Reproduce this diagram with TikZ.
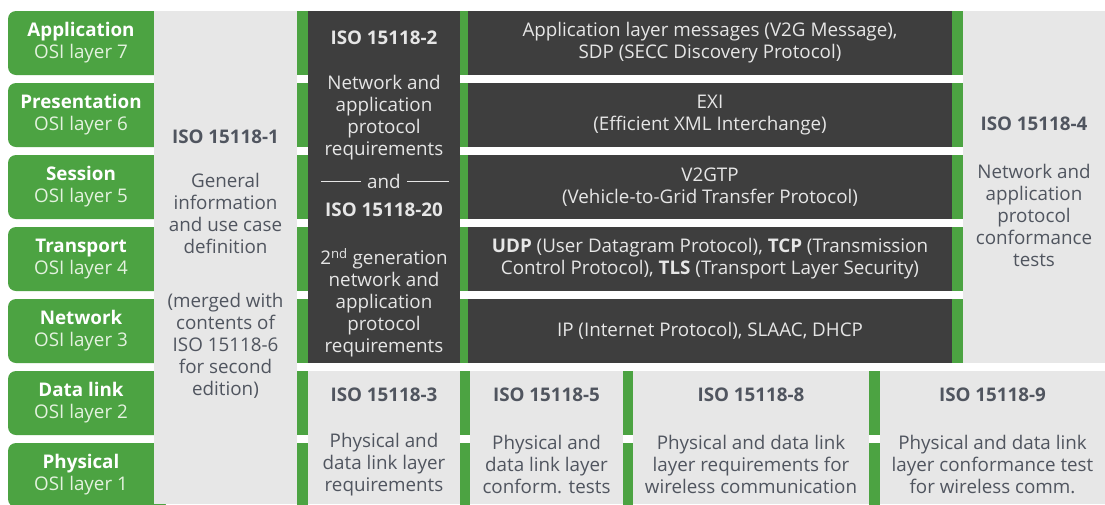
\documentclass[tikz,border=0pt]{standalone}
\usepackage{fontspec}
\setmainfont{Open Sans}
\definecolor{greenc}{HTML}{4CA342}
\definecolor{darkc}{HTML}{3E3E3E}
\definecolor{lightc}{HTML}{E7E7E7}
\definecolor{txtdark}{HTML}{50555F}
\definecolor{txtlight}{HTML}{E6E6E6}
\definecolor{ositxt}{HTML}{E4F2DF}
\tikzset{
  txt/.style={align=center, inner sep=0pt, font=\fontsize{18.8}{22}\selectfont},
  ontxt/.style={txt, text=txtlight},
  offtxt/.style={txt, text=txtdark},
  greentxt/.style={txt, text=white},
  andline/.style={draw=txtlight, line width=0.8pt}
}
\begin{document}
\begin{tikzpicture}[x=1pt,y=-1pt]
\clip (0,0) rectangle (1105,504);
\fill[white] (0,0) rectangle (1105,504);
% left green OSI boxes
\foreach \r in {1,...,7}{
  \pgfmathsetmacro\t{11+72*(\r-1)}
  \fill[greenc, rounded corners=8pt] (8,\t) rectangle (168,\t+64);
}
% ISO 15118-1 column
\fill[lightc] (154,11) rectangle (297,504);
% green bars left of ISO 15118-2 (all rows)
\foreach \r in {1,...,7}{
  \pgfmathsetmacro\t{11+72*(\r-1)}
  \fill[greenc] (297,\t) rectangle (308,\t+64);
}
% ISO 15118-2 dark column
\fill[darkc] (308,11) rectangle (460,363);
% dark protocol rows
\foreach \r in {1,...,5}{
  \pgfmathsetmacro\t{11+72*(\r-1)}
  \fill[greenc] (460,\t) rectangle (468,\t+64);
  \fill[darkc] (468,\t) rectangle (952,\t+64);
  \fill[greenc] (952,\t) rectangle (963,\t+64);
}
% ISO 15118-4 column
\fill[lightc] (963,11) rectangle (1105,363);
% bottom cells
\fill[lightc] (308,371) rectangle (460,504);
\fill[lightc] (470,371) rectangle (623,504);
\fill[lightc] (633,371) rectangle (869,504);
\fill[lightc] (880,371) rectangle (1105,504);
\foreach \r in {6,7}{
  \pgfmathsetmacro\t{11+72*(\r-1)}
  \fill[greenc] (460,\t) rectangle (470,\t+64);
  \fill[greenc] (623,\t) rectangle (633,\t+64);
  \fill[greenc] (869,\t) rectangle (880,\t+64);
}
% OSI labels
\node[greentxt] (osi7) at (81,43)  {\textbf{Application}\\{\color{ositxt}OSI layer 7}};
\node[greentxt] (osi6) at (81,115) {\textbf{Presentation}\\{\color{ositxt}OSI layer 6}};
\node[greentxt] (osi5) at (81,187) {\textbf{Session}\\{\color{ositxt}OSI layer 5}};
\node[greentxt] (osi4) at (81,259) {\textbf{Transport}\\{\color{ositxt}OSI layer 4}};
\node[greentxt] (osi3) at (81,331) {\textbf{Network}\\{\color{ositxt}OSI layer 3}};
\node[greentxt] (osi2) at (81,403) {\textbf{Data link}\\{\color{ositxt}OSI layer 2}};
\node[greentxt] (osi1) at (81,475) {\textbf{Physical}\\{\color{ositxt}OSI layer 1}};
% ISO 15118-1
\node[offtxt] (p1t) at (225.5,137) {\textbf{ISO 15118-1}};
\node[offtxt] (p1d) at (225.5,213.5) {General\\information\\and use case\\definition};
\node[offtxt] (p1m) at (225.5,346) {(merged with\\contents of\\ISO 15118-6\\for second\\edition)};
% ISO 15118-2 / -20
\node[ontxt] (p2t) at (384,38) {\textbf{ISO 15118-2}};
\node[ontxt] (p2d) at (384,118) {Network and\\application\\protocol\\requirements};
\node[ontxt] (pand) at (384,181) {and};
\draw[andline] ([xshift=-6pt]pand.west) -- ++(-40,0);
\draw[andline] ([xshift=6pt]pand.east) -- ++(42,0);
\node[ontxt] (p20t) at (384,210) {\textbf{ISO 15118-20}};
\node[ontxt] (p20d) at (384,303) {2\textsuperscript{nd} generation\\network and\\application\\protocol\\requirements};
% protocol rows
\node[ontxt] (r7) at (710,43) {Application layer messages (V2G Message),\\SDP (SECC Discovery Protocol)};
\node[ontxt] (r6) at (710,115) {EXI\\(Efficient XML Interchange)};
\node[ontxt] (r5) at (710,187) {V2GTP\\(Vehicle-to-Grid Transfer Protocol)};
\node[ontxt] (r4) at (710,259) {\textbf{UDP} (User Datagram Protocol), \textbf{TCP} (Transmission\\Control Protocol), \textbf{TLS} (Transport Layer Security)};
\node[ontxt] (r3) at (710,331) {IP (Internet Protocol), SLAAC, DHCP};
% ISO 15118-4
\node[offtxt] (p4t) at (1034,124) {\textbf{ISO 15118-4}};
\node[offtxt] (p4d) at (1034,215) {Network and\\application\\protocol\\conformance\\tests};
% bottom cells
\node[offtxt] (p3t) at (384,395) {\textbf{ISO 15118-3}};
\node[offtxt] (p3d) at (384,464.5) {Physical and\\data link layer\\requirements};
\node[offtxt] (p5t) at (546.5,395) {\textbf{ISO 15118-5}};
\node[offtxt] (p5d) at (546.5,464.5) {Physical and\\data link layer\\conform. tests};
\node[offtxt] (p8t) at (751,395) {\textbf{ISO 15118-8}};
\node[offtxt] (p8d) at (751,464.5) {Physical and data link\\layer requirements for\\wireless communication};
\node[offtxt] (p9t) at (992.5,395) {\textbf{ISO 15118-9}};
\node[offtxt] (p9d) at (992.5,464.5) {Physical and data link\\layer conformance test\\for wireless comm.};
\end{tikzpicture}
\end{document}
